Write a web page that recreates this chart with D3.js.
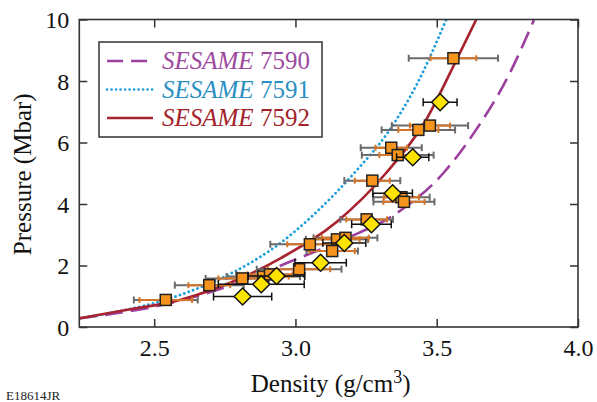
<!DOCTYPE html>
<html><head><meta charset="utf-8">
<script src="https://cdn.jsdelivr.net/npm/d3@7/dist/d3.min.js"></script>
<style>
body{margin:0;background:#fff}
svg{display:block}
</style>
</head><body>
<svg id="chart" width="597" height="402"></svg>
<script>
// ---- data ----
const xTicks = [2.5, 3.0, 3.5, 4.0];
const yTicks = [0, 2, 4, 6, 8, 10];
const seriesNames = ["7590", "7591", "7592"];
const seriesColors = ["#9c3f9f", "#1e9fdc", "#a8232d"];
const legendTextColors = ["#9c4aa0", "#2a8fc2", "#a3232a"];

// SESAME curves: [density, pressure]
const curve7590 = [[2.235,0.28],[2.59,0.85],[2.80,1.45],[2.98,2.12],[3.18,2.88],[3.358,3.70],[3.523,5.0],[3.639,6.41],[3.75,8.1],[3.844,9.98]];
const curve7591 = [[2.235,0.28],[2.591,1.04],[2.774,1.75],[2.945,2.72],[3.063,3.64],[3.217,5.1],[3.328,6.34],[3.43,7.9],[3.533,9.98]];
const curve7592 = [[2.235,0.28],[2.40,0.55],[2.591,0.88],[2.81,1.60],[2.95,2.25],[3.15,3.45],[3.32,5.0],[3.46,6.7],[3.56,8.5],[3.64,10.0]];

// orange squares
const sqDensity  = [2.541,2.695,2.812,2.886,2.910,3.013,3.051,3.130,3.147,3.177,3.252,3.272,3.339,3.362,3.375,3.384,3.435,3.476,3.559];
const sqPressure = [0.88,1.36,1.58,1.64,1.71,1.88,2.69,2.47,2.85,2.90,3.50,4.76,5.83,5.59,4.22,4.07,6.41,6.55,8.74];
const sqErrOuter = [0.113,0.122,0.13,0.13,0.12,0.15,0.14,0.091,0.11,0.113,0.093,0.099,0.108,0.127,0.100,0.108,0.130,0.135,0.158];
const sqErrInner = [0.093,0.074,0.085,0.09,0.08,0.11,0.08,0.080,0.08,0.083,0.072,0.062,0.056,0.065,0.062,0.073,0.071,0.071,0.081];

// yellow diamonds
const dmDensity  = [2.813,2.879,2.933,3.089,3.173,3.269,3.344,3.415,3.512];
const dmPressure = [0.99,1.39,1.66,2.09,2.73,3.34,4.35,5.52,7.31];
const dmErr      = [0.103,0.152,0.10,0.091,0.076,0.070,0.070,0.057,0.060];

// ---- drawing ----
const FONT = "'Liberation Serif','Tinos','Times New Roman',serif";
const svg = d3.select("#chart");
const L = 79.3, R = 578, T = 19.5, B = 327;
const x = d3.scaleLinear().domain([2.235, 4.0]).range([L, R]);
const y = d3.scaleLinear().domain([0, 10]).range([B, T]);

const plot = svg.append("g");
svg.append("clipPath").attr("id","clip").append("rect")
  .attr("x",L).attr("y",T).attr("width",R-L).attr("height",B-T);

// curves
const line = d3.line().x(d=>x(d[0])).y(d=>y(d[1])).curve(d3.curveMonotoneX);
const curves = [curve7590, curve7591, curve7592];
const dashes = ["18 8", "0.1 4.6", null];
const cg = plot.append("g").attr("clip-path","url(#clip)");
curves.forEach((c,i)=>{
  const p = cg.append("path").datum(c).attr("d",line)
    .attr("fill","none").attr("stroke",seriesColors[i]).attr("stroke-width",2.6);
  if (dashes[i]) p.attr("stroke-dasharray",dashes[i]);
  if (i===1) p.attr("stroke-linecap","round").attr("stroke-width",2.8);
});

// error bar helper
function errbar(g, xc, yc, e, color, cap, w){
  const x0 = x(xc - e), x1 = x(xc + e), yy = y(yc);
  g.append("line").attr("x1",x0).attr("x2",x1).attr("y1",yy).attr("y2",yy)
    .attr("stroke",color).attr("stroke-width",w);
  [x0,x1].forEach(xx=>g.append("line").attr("x1",xx).attr("x2",xx)
    .attr("y1",yy-cap).attr("y2",yy+cap).attr("stroke",color).attr("stroke-width",w));
}

const sg = plot.append("g");
sqDensity.forEach((d,i)=>errbar(sg, d, sqPressure[i], sqErrOuter[i], "#6b6b6b", 3.5, 2));
sqDensity.forEach((d,i)=>errbar(sg, d, sqPressure[i], sqErrInner[i], "#d5752a", 3, 2));
sg.selectAll("rect.sq").data(sqDensity).join("rect").attr("class","sq")
  .attr("x",(d,i)=>x(d)-5.5).attr("y",(d,i)=>y(sqPressure[i])-5.5)
  .attr("width",11).attr("height",11)
  .attr("fill","#f7941d").attr("stroke","#222").attr("stroke-width",1.5);

const dg = plot.append("g");
dmDensity.forEach((d,i)=>errbar(dg, d, dmPressure[i], dmErr[i], "#111", 4, 1.5));
dg.selectAll("path.dm").data(dmDensity).join("path").attr("class","dm")
  .attr("transform",(d,i)=>`translate(${x(d)},${y(dmPressure[i])})`)
  .attr("d","M0,-8.5L8.5,0L0,8.5L-8.5,0Z")
  .attr("fill","#ffe300").attr("stroke","#111").attr("stroke-width",1.5);

// axes (inward ticks on all sides)
const tickLen = 8;
const ax = svg.append("g").attr("transform",`translate(0,${B})`)
  .call(d3.axisBottom(x).tickValues(xTicks).tickFormat(d3.format(".1f")).tickSizeInner(-tickLen).tickSizeOuter(0).tickPadding(12));
const axT = svg.append("g").attr("transform",`translate(0,${T})`)
  .call(d3.axisTop(x).tickValues(xTicks).tickFormat("").tickSizeInner(-tickLen).tickSizeOuter(0));
const ay = svg.append("g").attr("transform",`translate(${L},0)`)
  .call(d3.axisLeft(y).tickValues(yTicks).tickFormat(d3.format("d")).tickSizeInner(-tickLen).tickSizeOuter(0).tickPadding(10));
const ayR = svg.append("g").attr("transform",`translate(${R},0)`)
  .call(d3.axisRight(y).tickValues(yTicks).tickFormat("").tickSizeInner(-tickLen).tickSizeOuter(0));
[ax,axT,ay,ayR].forEach(g=>{
  g.attr("font-family",null);
  g.select(".domain").remove();
  g.selectAll(".tick line").attr("stroke","#333").attr("stroke-width",1.5);
  g.selectAll(".tick text").style("font-family",FONT).style("font-size","24px").attr("fill","#111");
});
ax.selectAll(".tick text").attr("dy","0.71em");
ay.selectAll(".tick text").attr("dy","0.34em");

// frame
svg.append("rect").attr("x",L).attr("y",T).attr("width",R-L).attr("height",B-T)
  .attr("fill","none").attr("stroke","#333").attr("stroke-width",1.6);

// axis titles
const xt = svg.append("text").attr("x",(L+R)/2+2).attr("y",392).attr("text-anchor","middle")
  .style("font-family",FONT).style("font-size","25px").attr("fill","#111");
xt.append("tspan").text("Density (g/cm");
xt.append("tspan").style("font-size","18px").attr("dy",-9).text("3");
xt.append("tspan").attr("dy",9).text(")");

svg.append("text").attr("transform",`translate(31,${(T+B)/2 + 1}) rotate(-90)`)
  .attr("text-anchor","middle").style("font-family",FONT).style("font-size","25px").attr("fill","#111")
  .text("Pressure (Mbar)");

// legend
const lg = svg.append("g");
lg.append("rect").attr("x",99).attr("y",42).attr("width",223).attr("height",95)
  .attr("fill","#fff").attr("stroke","#333").attr("stroke-width",1.5);
const rowY = [61, 89.5, 118];
seriesNames.forEach((n,i)=>{
  const l = lg.append("line").attr("x1",107).attr("x2",153).attr("y1",rowY[i]).attr("y2",rowY[i])
    .attr("stroke",seriesColors[i]).attr("stroke-width",2.6);
  if (i===0) l.attr("stroke-dasharray","16 8");
  if (i===1) l.attr("stroke-dasharray","0.1 4.4").attr("stroke-linecap","round").attr("stroke-width",2.6);
  const t = lg.append("text").attr("x",162).attr("y",rowY[i]+8)
    .style("font-family",FONT).style("font-size","25px").attr("fill",legendTextColors[i]);
  t.append("tspan").style("font-style","italic").text("SESAME");
  t.append("tspan").text(" " + n);
});

// figure id
svg.append("text").attr("x",6).attr("y",400).style("font-family",FONT).style("font-size","13px")
  .attr("fill","#222").text("E18614JR");
</script>
</body></html>
